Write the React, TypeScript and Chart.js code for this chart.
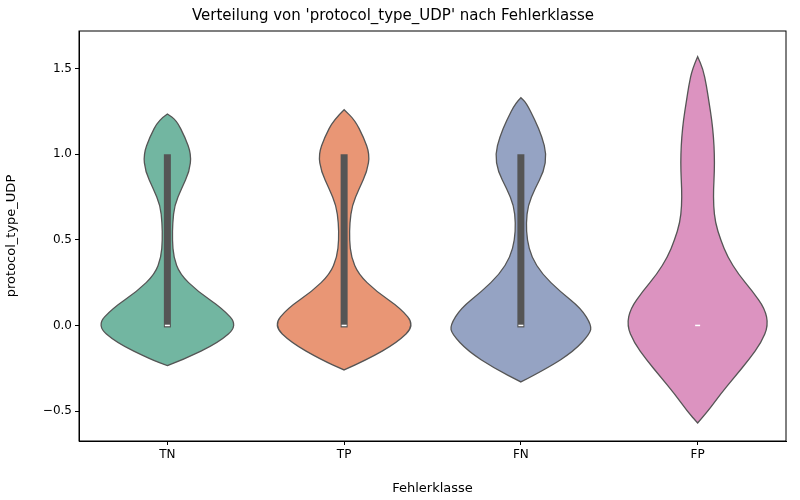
import React, { useEffect, useRef } from "react";
import { Chart, registerables } from "chart.js";
Chart.register(...registerables);

const categories = ["TN", "TP", "FN", "FP"];
const fills = ["#72b6a1", "#e99675", "#95a3c3", "#dc93c0"];
// density profiles: value levels and half-widths (in category units)
const tnY = [-0.235, -0.2, -0.1, 0, 0.1, 0.2, 0.3, 0.4, 0.5, 0.6, 0.7, 0.8, 0.9, 1.0, 1.1, 1.2, 1.235];
const tnW = [0, 0.09, 0.29, 0.4, 0.31, 0.17, 0.07, 0.035, 0.028, 0.03, 0.04, 0.08, 0.125, 0.135, 0.1, 0.05, 0];
const tpY = [-0.26, -0.2, -0.1, 0, 0.1, 0.2, 0.3, 0.4, 0.5, 0.6, 0.7, 0.8, 0.9, 1.0, 1.1, 1.2, 1.26];
const tpW = [0, 0.13, 0.3, 0.4, 0.32, 0.18, 0.08, 0.04, 0.03, 0.032, 0.045, 0.085, 0.13, 0.145, 0.11, 0.06, 0];
const fnY = [-0.33, -0.25, -0.15, -0.05, 0, 0.1, 0.2, 0.3, 0.4, 0.5, 0.6, 0.7, 0.8, 0.9, 1.0, 1.1, 1.2, 1.3, 1.33];
const fnW = [0, 0.15, 0.3, 0.39, 0.4, 0.34, 0.22, 0.12, 0.06, 0.035, 0.03, 0.04, 0.08, 0.13, 0.145, 0.12, 0.08, 0.03, 0];
const fpY = [-0.57, -0.5, -0.4, -0.3, -0.2, -0.1, 0, 0.1, 0.2, 0.3, 0.4, 0.5, 0.6, 0.7, 0.8, 0.9, 1.0, 1.1, 1.2, 1.3, 1.4, 1.5, 1.57];
const fpW = [0, 0.06, 0.13, 0.21, 0.29, 0.36, 0.4, 0.38, 0.31, 0.23, 0.17, 0.13, 0.1, 0.09, 0.09, 0.095, 0.095, 0.09, 0.08, 0.065, 0.05, 0.03, 0];
const violinY = [tnY, tpY, fnY, fpY];
const violinW = [tnW, tpW, fnW, fpW];
const boxQ1 = [0, 0, 0, 0];
const boxQ3 = [1, 1, 1, 0];
const medians = [0, 0, 0, 0];
const yTicks = [-0.5, 0, 0.5, 1.0, 1.5];

function smoothPath(ctx: CanvasRenderingContext2D, pts: [number, number][]) {
  ctx.moveTo(pts[0][0], pts[0][1]);
  for (let i = 1; i < pts.length - 1; i++) {
    const mx = (pts[i][0] + pts[i + 1][0]) / 2;
    const my = (pts[i][1] + pts[i + 1][1]) / 2;
    ctx.quadraticCurveTo(pts[i][0], pts[i][1], mx, my);
  }
  const l = pts[pts.length - 1];
  ctx.lineTo(l[0], l[1]);
}

const violinPlugin = {
  id: "violins",
  afterDatasetsDraw(chart: any) {
    const { ctx, scales, chartArea } = chart;
    const xs = scales.x, ys = scales.y;
    ctx.save();
    categories.forEach((_, i) => {
      const Y = violinY[i], W = violinW[i];
      const right: [number, number][] = Y.map((v, k) => [xs.getPixelForValue(i + W[k]), ys.getPixelForValue(v)]);
      const left: [number, number][] = Y.map((v, k) => [xs.getPixelForValue(i - W[k]), ys.getPixelForValue(v)]).reverse();
      ctx.beginPath();
      smoothPath(ctx, right);
      const lp = left;
      for (let k = 1; k < lp.length - 1; k++) {
        const mx = (lp[k][0] + lp[k + 1][0]) / 2;
        const my = (lp[k][1] + lp[k + 1][1]) / 2;
        ctx.quadraticCurveTo(lp[k][0], lp[k][1], mx, my);
      }
      ctx.closePath();
      ctx.fillStyle = fills[i];
      ctx.fill();
      ctx.strokeStyle = "#555555";
      ctx.lineWidth = 1.3;
      ctx.stroke();
      const cx = xs.getPixelForValue(i);
      if (boxQ3[i] > boxQ1[i]) {
        ctx.fillStyle = "#555555";
        const t = ys.getPixelForValue(boxQ3[i]), b = ys.getPixelForValue(boxQ1[i]);
        ctx.fillRect(cx - 3.5, t, 7, b - t + 2);
      }
      ctx.strokeStyle = "#ffffff";
      ctx.lineWidth = 1.5;
      ctx.beginPath();
      const my = ys.getPixelForValue(medians[i]);
      ctx.moveTo(cx - 2.5, my);
      ctx.lineTo(cx + 2.5, my);
      ctx.stroke();
    });
    ctx.strokeStyle = "#000";
    ctx.lineWidth = 1;
    ctx.strokeRect(chartArea.left, chartArea.top, chartArea.right - chartArea.left, chartArea.bottom - chartArea.top);
    ctx.restore();
  },
};

export default function App() {
  const ref = useRef<HTMLCanvasElement>(null);
  useEffect(() => {
    const font = "'DejaVu Sans', sans-serif";
    const chart = new Chart(ref.current!, {
      type: "scatter",
      data: { datasets: [{ data: [], pointRadius: 0 }] },
      options: {
        animation: false,
        responsive: false,
        layout: { padding: { left: 0, right: 14, top: 0, bottom: 0 } },
        plugins: {
          legend: { display: false },
          tooltip: { enabled: false },
          title: {
            display: true,
            text: "Verteilung von 'protocol_type_UDP' nach Fehlerklasse",
            color: "#000",
            font: { family: font, size: 15, weight: "normal" },
            padding: { top: 7, bottom: 6 },
          },
        },
        scales: {
          x: {
            type: "linear",
            min: -0.5,
            max: 3.5,
            afterBuildTicks: (s: any) => { s.ticks = categories.map((_, i) => ({ value: i })); },
            afterFit: (s: any) => { s.height = 59; },
            ticks: { color: "#000", font: { family: font, size: 12 }, callback: (v: any) => categories[v] ?? "" },
            grid: { drawOnChartArea: false, color: "#000", tickLength: 4 },
            border: { color: "#000" },
            title: { display: true, text: "Fehlerklasse", color: "#000", font: { family: font, size: 13 }, padding: { top: 2 } },
          },
          y: {
            min: -0.675,
            max: 1.72,
            afterBuildTicks: (s: any) => { s.ticks = yTicks.map((v) => ({ value: v })); },
            afterFit: (s: any) => { s.width = 79; },
            ticks: { color: "#000", font: { family: font, size: 12 }, callback: (v: any) => (v < 0 ? "\u2212" + Math.abs(v).toFixed(1) : Number(v).toFixed(1)) },
            grid: { drawOnChartArea: false, color: "#000", tickLength: 4 },
            border: { color: "#000" },
            title: { display: true, text: "protocol_type_UDP", color: "#000", font: { family: font, size: 13 } },
          },
        },
      },
      plugins: [violinPlugin],
    } as any);
    return () => chart.destroy();
  }, []);
  return (
    <div style={{ position: "fixed", left: 0, top: 0, width: 800, height: 500, background: "#fff" }}>
      <canvas ref={ref} width={800} height={500} />
    </div>
  );
}
